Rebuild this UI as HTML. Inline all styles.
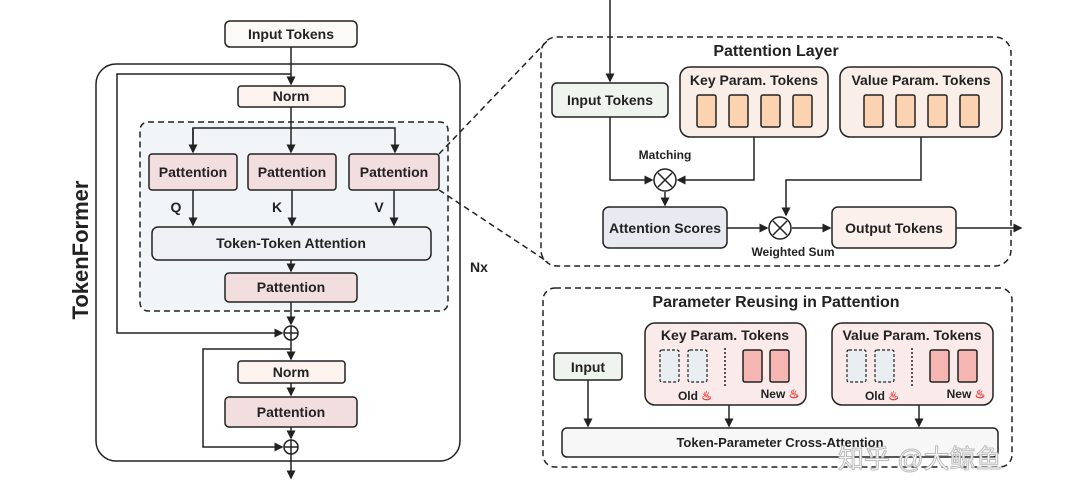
<!DOCTYPE html><html><head><style>body{margin:0;background:#fff}svg{display:block}text{font-family:"Liberation Sans",sans-serif;font-weight:bold;fill:#222}</style></head><body>
<svg width="1080" height="499" viewBox="0 0 1080 499" xmlns="http://www.w3.org/2000/svg">
<defs><marker id="a" markerWidth="6" markerHeight="6" refX="5" refY="3" orient="auto"><path d="M0,0L6,3L0,6z" fill="#222"/></marker></defs>
<g stroke="#222" stroke-width="1.5" fill="none">
<rect x="96" y="64" width="364" height="397" rx="20" fill="#fff"/>
<rect x="140" y="122" width="308" height="189" rx="8" fill="#f1f5f8" stroke-dasharray="6,4"/>
<line x1="439" y1="154" x2="548" y2="40" stroke-dasharray="6,4"/>
<line x1="439" y1="190" x2="548" y2="262" stroke-dasharray="6,4"/>
<line x1="291" y1="47" x2="291" y2="84" marker-end="url(#a)"/>
<polyline points="291,74 117,74 117,333 282,333" marker-end="url(#a)"/>
<line x1="291" y1="107" x2="291" y2="152" marker-end="url(#a)"/>
<polyline points="193,152 193,128 395,128 395,152" marker-end="url(#a)"/>
<line x1="193" y1="128" x2="193" y2="152" marker-end="url(#a)"/>
<line x1="193" y1="190" x2="193" y2="225" marker-end="url(#a)"/>
<line x1="292" y1="190" x2="292" y2="225" marker-end="url(#a)"/>
<line x1="394" y1="190" x2="394" y2="225" marker-end="url(#a)"/>
<line x1="291" y1="260" x2="291" y2="271" marker-end="url(#a)"/>
<line x1="291" y1="302" x2="291" y2="324" marker-end="url(#a)"/>
<line x1="291" y1="340" x2="291" y2="359" marker-end="url(#a)"/>
<polyline points="291,349 203,349 203,447 282,447" marker-end="url(#a)"/>
<line x1="291" y1="383" x2="291" y2="395" marker-end="url(#a)"/>
<line x1="291" y1="427" x2="291" y2="438" marker-end="url(#a)"/>
<line x1="291" y1="454" x2="291" y2="478" marker-end="url(#a)"/>
<circle cx="291" cy="333" r="7" fill="#fff"/><path d="M284,333h14M291,326v14"/>
<circle cx="291" cy="447" r="7" fill="#fff"/><path d="M284,447h14M291,440v14"/>
<rect x="225" y="21" width="132" height="26" rx="5" fill="#fbfaf6"/>
<rect x="238" y="86" width="107" height="21" rx="3" fill="#fcf2ee"/>
<rect x="149" y="154" width="88" height="36" rx="3" fill="#f2dede"/>
<rect x="248" y="154" width="88" height="36" rx="3" fill="#f2dede"/>
<rect x="349" y="154" width="90" height="36" rx="3" fill="#f2dede"/>
<rect x="152" y="227" width="279" height="33" rx="6" fill="#eef0f5"/>
<rect x="225" y="273" width="132" height="29" rx="4" fill="#f2dede"/>
<rect x="238" y="361" width="107" height="22" rx="3" fill="#fcf2ee"/>
<rect x="225" y="397" width="132" height="30" rx="4" fill="#f2dede"/>
<!-- right top -->
<rect x="541" y="37" width="470" height="229" rx="16" stroke-dasharray="6,4"/>
<line x1="610" y1="0" x2="610" y2="81" marker-end="url(#a)"/>
<polyline points="610,117 610,180 652,180" marker-end="url(#a)"/>
<polyline points="754,137 754,180 678,180" marker-end="url(#a)"/>
<line x1="665" y1="192" x2="665" y2="205" marker-end="url(#a)"/>
<polyline points="921,137 921,180 786,180 786,215" marker-end="url(#a)"/>
<line x1="727" y1="228" x2="767" y2="228" marker-end="url(#a)"/>
<line x1="792" y1="228" x2="830" y2="228" marker-end="url(#a)"/>
<line x1="956" y1="228" x2="1021" y2="228" marker-end="url(#a)"/>
<rect x="552" y="83" width="116" height="34" rx="5" fill="#f0f4ee"/>
<rect x="680" y="67" width="148" height="70" rx="10" fill="#faeee8"/>
<rect x="840" y="67" width="162" height="70" rx="10" fill="#faeee8"/>
<g fill="#fbd3b0"><rect x="697" y="95" width="19" height="32" rx="2"/><rect x="729" y="95" width="19" height="32" rx="2"/><rect x="761" y="95" width="19" height="32" rx="2"/><rect x="793" y="95" width="19" height="32" rx="2"/>
<rect x="864" y="95" width="19" height="32" rx="2"/><rect x="896" y="95" width="19" height="32" rx="2"/><rect x="928" y="95" width="19" height="32" rx="2"/><rect x="960" y="95" width="19" height="32" rx="2"/></g>
<circle cx="665" cy="180" r="11" fill="#fff"/><path d="M658,173l14,14M672,173l-14,14"/>
<circle cx="780" cy="228" r="11" fill="#fff"/><path d="M773,221l14,14M787,221l-14,14"/>
<rect x="603" y="207" width="124" height="41" rx="6" fill="#e8e9f1"/>
<rect x="832" y="207" width="124" height="41" rx="6" fill="#fbf0ec"/>
<!-- bottom -->
<rect x="543" y="288" width="469" height="179" rx="12" stroke-dasharray="6,4"/>
<line x1="588" y1="380" x2="588" y2="426" marker-end="url(#a)"/>
<line x1="729" y1="405" x2="729" y2="426" marker-end="url(#a)"/>
<line x1="919" y1="405" x2="919" y2="426" marker-end="url(#a)"/>
<rect x="554" y="353" width="68" height="27" rx="3" fill="#f0f4ee"/>
<rect x="645" y="323" width="161" height="82" rx="10" fill="#fbeaea"/>
<rect x="832" y="323" width="161" height="82" rx="10" fill="#fbeaea"/>
<g stroke-dasharray="3,2" fill="#e8eef2" stroke-width="1.2"><rect x="660" y="350" width="19" height="32" rx="2"/><rect x="688" y="350" width="19" height="32" rx="2"/><rect x="847" y="350" width="19" height="32" rx="2"/><rect x="875" y="350" width="19" height="32" rx="2"/></g>
<path d="M725,348v38M912,348v38" stroke-dasharray="2,2"/>
<g fill="#f4b5b3"><rect x="743" y="350" width="19" height="32" rx="2"/><rect x="770" y="350" width="19" height="32" rx="2"/><rect x="930" y="350" width="19" height="32" rx="2"/><rect x="958" y="350" width="19" height="32" rx="2"/></g>
<rect x="562" y="428" width="436" height="29" rx="5" fill="#f7f7f7"/>
</g>
<g text-anchor="middle" font-size="14">
<text x="291" y="39">Input Tokens</text>
<text x="291" y="101">Norm</text>
<text x="193" y="177">Pattention</text><text x="292" y="177">Pattention</text><text x="394" y="177">Pattention</text>
<text x="176" y="212">Q</text><text x="277" y="212">K</text><text x="379" y="212">V</text>
<text x="291" y="248">Token-Token Attention</text>
<text x="291" y="292">Pattention</text>
<text x="291" y="377">Norm</text>
<text x="291" y="417">Pattention</text>
<text x="479" y="272">Nx</text>
<text transform="translate(88,250) rotate(-90)" font-size="22">TokenFormer</text>
<text x="776" y="56" font-size="16">Pattention Layer</text>
<text x="610" y="105">Input Tokens</text>
<text x="754" y="85">Key Param. Tokens</text>
<text x="921" y="85">Value Param. Tokens</text>
<text x="665" y="159" font-size="12">Matching</text>
<text x="665" y="233">Attention Scores</text>
<text x="793" y="256" font-size="12">Weighted Sum</text>
<text x="894" y="233">Output Tokens</text>
<text x="776" y="307" font-size="16">Parameter Reusing in Pattention</text>
<text x="588" y="372">Input</text>
<text x="725" y="340">Key Param. Tokens</text>
<text x="912" y="340">Value Param. Tokens</text>
<text x="695" y="400" font-size="12">Old <tspan fill="#e33">♨</tspan></text>
<text x="780" y="398" font-size="12">New <tspan fill="#e33">♨</tspan></text>
<text x="882" y="400" font-size="12">Old <tspan fill="#e33">♨</tspan></text>
<text x="966" y="398" font-size="12">New <tspan fill="#e33">♨</tspan></text>
<text x="780" y="447" font-size="13">Token-Parameter Cross-Attention</text>
</g>
<text x="838" y="468" font-size="26" style="font-family:'Liberation Sans','Noto Sans CJK SC',sans-serif;fill:#fff;stroke:#bbb;stroke-width:1;font-weight:normal">知乎 @大鲸鱼</text>
</svg></body></html>
